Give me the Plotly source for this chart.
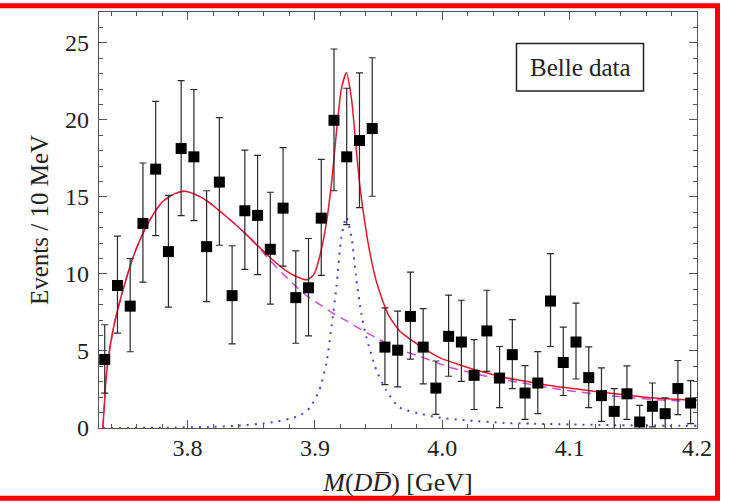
import plotly.graph_objects as go

# ---------------- data ----------------
mass = [3.735, 3.745, 3.755, 3.765, 3.775, 3.785, 3.795, 3.805, 3.815, 3.825,
        3.835, 3.845, 3.855, 3.865, 3.875, 3.885, 3.895, 3.905, 3.915, 3.925,
        3.935, 3.945, 3.955, 3.965, 3.975, 3.985, 3.995, 4.005, 4.015, 4.025,
        4.035, 4.045, 4.055, 4.065, 4.075, 4.085, 4.095, 4.105, 4.115, 4.125,
        4.135, 4.145, 4.155, 4.165, 4.175, 4.185, 4.195]
events = [4.45, 9.25, 7.91, 13.28, 16.8, 11.45, 18.14, 17.6, 11.77, 15.96,
          8.59, 14.1, 13.8, 11.6, 14.27, 8.46, 9.1, 13.62, 19.97, 17.6,
          18.66, 19.44, 5.25, 5.05, 7.24, 5.25, 2.59, 5.95, 5.58, 3.42,
          6.3, 3.24, 4.76, 2.27, 2.92, 8.24, 4.25, 5.58, 3.27, 2.1,
          1.08, 2.22, 0.39, 1.41, 0.93, 2.56, 1.62]
err_top = [6.7, 12.45, 11.0, 17.2, 21.2, 15.1, 22.55, 21.97, 15.4, 20.15,
           11.83, 18.03, 17.7, 15.3, 18.2, 11.5, 12.3, 17.43, 24.6, 22.05,
           23.05, 24.03, 7.8, 7.58, 10.12, 7.75, 4.35, 8.62, 8.29, 5.74,
           8.94, 5.29, 7.03, 4.05, 4.96, 11.32, 6.55, 8.11, 5.26, 3.9,
           2.56, 4.03, 1.47, 2.92, 1.95, 4.38, 3.07]
err_bottom = [2.26, 6.16, 4.95, 9.47, 12.48, 7.85, 13.79, 13.46, 8.2, 11.86,
              5.46, 10.3, 9.96, 8.04, 10.5, 5.5, 5.98, 9.9, 15.4, 13.2,
              14.3, 15.04, 2.82, 2.67, 4.47, 2.87, 0.89, 3.36, 3.03, 1.2,
              3.68, 1.32, 2.56, 0.56, 0.93, 5.29, 2.11, 3.18, 1.32, 0.43,
              -0.3, 0.56, -0.3, 0.07, -0.3, 0.87, 0.28]

# total fit (red solid)
total_x = [3.7335, 3.7348, 3.7361, 3.7387, 3.7426, 3.7478, 3.753, 3.7582, 3.7648,
           3.7726, 3.7805, 3.7896, 3.7974, 3.8078, 3.815, 3.825, 3.835, 3.845,
           3.855, 3.865, 3.875, 3.885, 3.894, 3.8995, 3.9037, 3.909, 3.9137,
           3.9169, 3.9208, 3.9247, 3.9287, 3.9326, 3.9352, 3.9391, 3.9436,
           3.9483, 3.9535, 3.958, 3.966, 3.971, 3.984, 3.997, 4.010, 4.023,
           4.036, 4.049, 4.062, 4.083, 4.103, 4.123, 4.145, 4.162, 4.183, 4.20]
total_y = [0.0, 1.6, 3.3, 5.0, 6.8, 8.5, 10.0, 11.3, 12.6,
           13.8, 14.7, 15.2, 15.37, 15.1, 14.75, 14.1, 13.4, 12.65,
           11.85, 11.05, 10.35, 9.85, 9.62, 10.0, 11.1, 13.3, 16.4,
           19.2, 22.0, 23.05, 21.4, 18.0, 15.8, 13.4, 11.2,
           9.5, 8.2, 7.3, 6.35, 6.0, 5.25, 4.6, 4.2, 3.85,
           3.55, 3.28, 3.08, 2.78, 2.56, 2.34, 2.14, 1.98, 1.87, 1.8]

# background (magenta dashed)
bkg_x = [3.7335, 3.7348, 3.7361, 3.7387, 3.7426, 3.7478, 3.753, 3.7582, 3.7648,
         3.7726, 3.7805, 3.7896, 3.7974, 3.8078, 3.815, 3.825, 3.835, 3.845,
         3.855, 3.865, 3.875, 3.885, 3.895, 3.905, 3.915, 3.925, 3.935, 3.945,
         3.955, 3.966, 3.982, 4.005, 4.031, 4.058, 4.097, 4.136, 4.175, 4.20]
bkg_y = [0.0, 1.6, 3.3, 5.0, 6.8, 8.5, 10.0, 11.3, 12.6,
         13.8, 14.7, 15.2, 15.37, 15.1, 14.75, 14.1, 13.4, 12.65,
         11.8, 10.85, 10.0, 9.2, 8.5, 7.95, 7.4, 6.95, 6.45, 6.0,
         5.55, 5.09, 4.66, 3.96, 3.42, 2.99, 2.45, 2.06, 1.8, 1.7]

# resonance (blue dotted)
peak_x = [3.7335, 3.78, 3.82, 3.84, 3.86, 3.87, 3.88, 3.888, 3.8959, 3.9037,
          3.909, 3.9137, 3.917, 3.9208, 3.9247, 3.9287, 3.9326, 3.9365, 3.9404,
          3.9483, 3.956, 3.966, 3.984, 3.997, 4.018, 4.049, 4.071, 4.123, 4.16, 4.20]
peak_y = [0.0, 0.02, 0.08, 0.15, 0.3, 0.42, 0.6, 0.8, 1.3, 2.5,
          4.2, 7.0, 9.2, 12.4, 13.7, 12.4, 9.6, 7.4, 5.9,
          3.75, 2.45, 1.35, 0.9, 0.68, 0.5, 0.33, 0.28, 0.2, 0.16, 0.14]

x_ticks = [3.8, 3.9, 4.0, 4.1, 4.2]
x_tick_labels = ["3.8", "3.9", "4.0", "4.1", "4.2"]
y_ticks = [0, 5, 10, 15, 20, 25]

# ---------------- figure ----------------
serif = "Liberation Serif, Times New Roman, serif"
fig = go.Figure()

fig.add_trace(go.Scatter(x=peak_x, y=peak_y, mode="lines",
                         line=dict(color="#4a3fe0", width=2, dash="2px,6px",
                                   shape="spline", smoothing=0.6),
                         hoverinfo="skip", showlegend=False))
fig.add_trace(go.Scatter(x=bkg_x, y=bkg_y, mode="lines",
                         line=dict(color="#d24ad8", width=1.5, dash="9px,6px",
                                   shape="spline", smoothing=0.6),
                         hoverinfo="skip", showlegend=False))
fig.add_trace(go.Scatter(x=total_x, y=total_y, mode="lines",
                         line=dict(color="#e5172f", width=1.5,
                                   shape="spline", smoothing=0.6),
                         hoverinfo="skip", showlegend=False))

up = [t - v for t, v in zip(err_top, events)]
down = [v - b for v, b in zip(events, err_bottom)]
fig.add_trace(go.Scatter(x=mass, y=events, mode="markers",
                         marker=dict(symbol="square", size=11, color="black"),
                         error_y=dict(type="data", symmetric=False, array=up,
                                      arrayminus=down, color="#2a2a2a",
                                      thickness=1.2, width=3.5),
                         showlegend=False))

axis_common = dict(showgrid=False, zeroline=False, showline=True, mirror="ticks",
                   linecolor="#555", linewidth=1.2, ticks="inside",
                   tickcolor="#555", tickwidth=1, ticklen=8, automargin=True,
                   tickfont=dict(family=serif, size=24, color="#222"))

fig.update_xaxes(range=[3.7305, 4.2], tickvals=x_ticks, ticktext=x_tick_labels,
                 minor=dict(ticks="inside", dtick=0.02, tick0=3.7, ticklen=4,
                            tickcolor="#555"),
                 ticklabelstandoff=-2,
                 title=dict(text="<i>M</i>(<i>D</i><i>D\u0305</i>) [GeV]",
                            font=dict(family=serif, size=26, color="#222"),
                            standoff=12),
                 **axis_common)
fig.update_yaxes(range=[0, 27], tickvals=y_ticks,
                 minor=dict(ticks="inside", dtick=1, ticklen=4, tickcolor="#555"),
                 ticklabelstandoff=4,
                 title=dict(text="Events / 10 MeV",
                            font=dict(family=serif, size=25, color="#222"),
                            standoff=9),
                 **axis_common)

W, H = 730, 504
ml, mr, mt, mb = 99, 33, 12, 76
pw, ph = W - ml - mr, H - mt - mb


def px(xp):
    return (xp - ml) / pw


def py(yp):
    return (H - mb - yp) / ph


shapes = [
    # "Belle data" frame
    dict(type="rect", xref="paper", yref="paper",
         x0=px(516.5), x1=px(643.5), y0=py(91), y1=py(43.5),
         line=dict(color="#222", width=1.5), fillcolor="white"),
    # red outer border (left edge lies outside the picture)
    dict(type="rect", xref="paper", yref="paper",
         x0=px(-40), x1=px(717.5), y0=py(498.3), y1=py(5.8),
         line=dict(color="#ff0000", width=5), layer="above"),
]

fig.update_layout(
    width=W, height=H,
    margin=dict(l=ml, r=mr, t=mt, b=mb, autoexpand=False),
    paper_bgcolor="white", plot_bgcolor="white",
    shapes=shapes,
    annotations=[dict(text="Belle data", xref="paper", yref="paper",
                      x=px(580), y=py(67.5), showarrow=False,
                      xanchor="center", yanchor="middle",
                      font=dict(family=serif, size=25, color="#222"))],
)

fig.write_html("out.html",
               config={"displayModeBar": False, "staticPlot": True},
               post_script="document.body.style.margin='0';"
                           "document.body.style.padding='0';")
